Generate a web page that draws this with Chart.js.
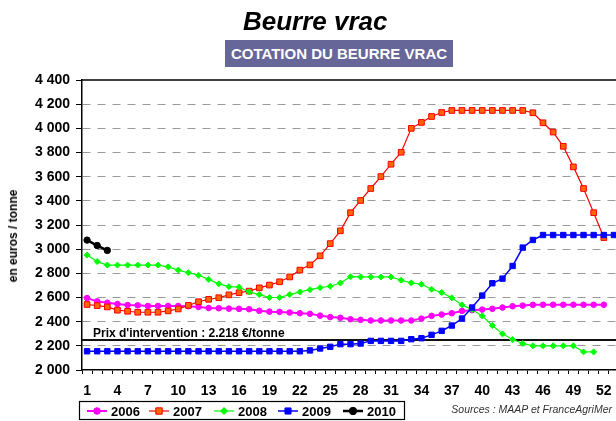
<!DOCTYPE html>
<html>
<head>
<meta charset="utf-8">
<script src="https://cdn.jsdelivr.net/npm/chart.js@4/dist/chart.umd.min.js"></script>
<style>
  html, body { margin: 0; padding: 0; background: #fff; overflow: hidden; }
  #wrap { position: relative; width: 616px; height: 421px; overflow: hidden;
          font-family: "Liberation Sans", Arial, sans-serif; color: #000; }
  #chart { position: absolute; left: 0; top: 0; }
  .title { position: absolute; left: 243px; top: 6px; font-size: 26px; line-height: 30px;
           font-weight: bold; font-style: italic; white-space: nowrap; }
  .subtitle { position: absolute; left: 225px; top: 40px; width: 228px; height: 27px; line-height: 27px;
              background: #666699; color: #fff; font-size: 15px; font-weight: bold; text-align: center;
              white-space: nowrap; }
  .ytitle { position: absolute; left: 13px; top: 236px; transform: translate(-50%, -50%) rotate(-90deg);
            font-size: 12px; font-weight: bold; white-space: nowrap; }
  .prix { position: absolute; left: 93px; top: 326px; font-size: 12px; line-height: 14px;
          font-weight: bold; white-space: nowrap; }
  .sources { position: absolute; right: 4px; top: 403px; font-size: 10.5px; line-height: 13px;
             font-style: italic; color: #333; white-space: nowrap; }
</style>
</head>
<body>
<div id="wrap">
  <canvas id="chart" width="624" height="421"></canvas>
  <div class="title">Beurre vrac</div>
  <div class="subtitle">COTATION DU BEURRE VRAC</div>
  <div class="ytitle">en euros / tonne</div>
  <div class="prix">Prix d'intervention : 2.218 €/tonne</div>
  <div class="sources">Sources : MAAP et FranceAgriMer</div>
</div>
<script>
const FONT = "'Liberation Sans', Arial, sans-serif";

const weeks = ["1", "2", "3", "4", "5", "6", "7", "8", "9", "10", "11", "12", "13", "14", "15", "16", "17", "18",
  "19", "20", "21", "22", "23", "24", "25", "26", "27", "28", "29", "30", "31", "32", "33", "34", "35", "36",
  "37", "38", "39", "40", "41", "42", "43", "44", "45", "46", "47", "48", "49", "50", "51", "52", "53"];

const years = ["2006", "2007", "2008", "2009", "2010"];

const prix2006 = [2595, 2568, 2557, 2546, 2538, 2535, 2530, 2530, 2530, 2530, 2528, 2522, 2513, 2511, 2508, 2506,
  2503, 2490, 2483, 2481, 2476, 2470, 2465, 2450, 2438, 2432, 2420, 2415, 2410, 2410, 2410, 2410, 2410, 2425,
  2448, 2459, 2470, 2489, 2495, 2500, 2506, 2517, 2528, 2533, 2539, 2540, 2540, 2540, 2540, 2540, 2540, 2540, null];

const prix2007 = [2542, 2533, 2522, 2495, 2486, 2478, 2478, 2478, 2489, 2505, 2535, 2565, 2585, 2598, 2622, 2640,
  2653, 2680, 2703, 2730, 2770, 2827, 2870, 2945, 3046, 3152, 3302, 3403, 3502, 3601, 3703, 3802, 4000, 4049,
  4098, 4131, 4148, 4148, 4148, 4148, 4148, 4148, 4148, 4148, 4129, 4046, 3969, 3851, 3681, 3502, 3302, 3096, null];

const prix2008 = [2951, 2897, 2868, 2868, 2868, 2868, 2868, 2868, 2854, 2827, 2805, 2784, 2750, 2713, 2690, 2686,
  2646, 2624, 2600, 2600, 2624, 2646, 2665, 2681, 2693, 2720, 2772, 2770, 2770, 2770, 2770, 2743, 2721, 2710,
  2668, 2641, 2597, 2539, 2500, 2448, 2368, 2299, 2252, 2219, 2200, 2200, 2200, 2200, 2200, 2150, 2150, null, null];

const prix2009 = [2155, 2155, 2155, 2155, 2155, 2155, 2155, 2155, 2155, 2155, 2155, 2155, 2155, 2155, 2155, 2155,
  2155, 2155, 2155, 2155, 2155, 2155, 2162, 2178, 2192, 2214, 2214, 2219, 2241, 2241, 2241, 2241, 2255, 2263,
  2291, 2324, 2368, 2426, 2517, 2616, 2718, 2756, 2861, 3013, 3076, 3117, 3117, 3117, 3117, 3117, 3117, 3117, 3117];

const prix2010 = [3075, 3030, 2990];

const prixIntervention = 2245;

const yMin = 2000;
const yMax = 4400;
const yStep = 200;

// legend sample start positions (x) on the canvas
const legendX = [87, 149, 214, 278, 343];

function fmtThousands(v) {
  return String(v).replace(/\B(?=(\d{3})+$)/, " ");
}

function drawMarker(ctx, style, x, y, r, fill, stroke) {
  ctx.beginPath();
  if (style === "circle") {
    ctx.arc(x, y, r, 0, Math.PI * 2);
  } else if (style === "rect") {
    const s = r * Math.SQRT1_2;
    ctx.rect(x - s, y - s, 2 * s, 2 * s);
  } else {
    ctx.moveTo(x, y - r);
    ctx.lineTo(x + r, y);
    ctx.lineTo(x, y + r);
    ctx.lineTo(x - r, y);
    ctx.closePath();
  }
  ctx.fillStyle = fill;
  ctx.fill();
  ctx.lineWidth = 1;
  ctx.strokeStyle = stroke;
  ctx.stroke();
}

const extras = {
  id: "extras",
  beforeDatasetsDraw(chart) {
    const { ctx, chartArea } = chart;
    const y = Math.round(chart.scales.y.getPixelForValue(prixIntervention));
    ctx.save();
    ctx.strokeStyle = "#111";
    ctx.lineWidth = 2;
    ctx.beginPath();
    ctx.moveTo(chartArea.left, y);
    ctx.lineTo(chartArea.right + 10, y);
    ctx.stroke();
    ctx.restore();
  },
  afterDraw(chart) {
    const { ctx, chartArea } = chart;
    ctx.save();
    // top frame line
    ctx.strokeStyle = "#000";
    ctx.lineWidth = 1.5;
    ctx.beginPath();
    ctx.moveTo(chartArea.left, chartArea.top);
    ctx.lineTo(chartArea.right + 10, chartArea.top);
    ctx.stroke();

    // legend box
    ctx.fillStyle = "#fff";
    ctx.fillRect(79.5, 401.5, 325, 18);
    ctx.strokeStyle = "#000";
    ctx.lineWidth = 1.2;
    ctx.strokeRect(79.5, 401.5, 325, 18);

    const ly = 411;
    ctx.font = "bold 13px " + FONT;
    ctx.textBaseline = "middle";
    chart.data.datasets.forEach((ds, i) => {
      const x0 = legendX[i];
      ctx.strokeStyle = ds.borderColor;
      ctx.lineWidth = ds.borderWidth;
      ctx.beginPath();
      ctx.moveTo(x0, ly);
      ctx.lineTo(x0 + 20, ly);
      ctx.stroke();
      drawMarker(ctx, ds.pointStyle, x0 + 10, ly, ds.pointRadius + 0.5, ds.pointBackgroundColor, ds.pointBorderColor);
      ctx.fillStyle = "#000";
      ctx.fillText(ds.label, x0 + 24, ly + 1);
    });
    ctx.restore();
  }
};

const styles = [
  { color: "#FF00FF", fill: "#FF00FF", width: 2, point: "circle", r: 2.8 },
  { color: "#FF0000", fill: "#FF6600", width: 1.2, point: "rect", r: 4 },
  { color: "#00FF00", fill: "#00FF00", width: 1.2, point: "rectRot", r: 3 },
  { color: "#0000FF", fill: "#0000FF", width: 1.5, point: "rect", r: 3.8 },
  { color: "#000000", fill: "#000000", width: 2.5, point: "circle", r: 3.2 }
];
const series = [prix2006, prix2007, prix2008, prix2009, prix2010];

const datasets = series.map((data, i) => ({
  label: years[i],
  data,
  borderColor: styles[i].color,
  borderWidth: styles[i].width,
  pointStyle: styles[i].point,
  pointRadius: styles[i].r,
  pointBackgroundColor: styles[i].fill,
  pointBorderColor: styles[i].color,
  pointBorderWidth: 1,
  tension: 0,
  spanGaps: false,
  order: series.length - i
}));

new Chart(document.getElementById("chart"), {
  type: "line",
  data: { labels: weeks, datasets },
  plugins: [extras],
  options: {
    responsive: false,
    animation: false,
    devicePixelRatio: 1,
    layout: { padding: { top: 80, right: 4, bottom: 0, left: 0 } },
    plugins: {
      legend: { display: false },
      tooltip: { enabled: false }
    },
    scales: {
      x: {
        type: "category",
        offset: true,
        grid: { offset: true, drawOnChartArea: false, tickLength: 4, color: "#000", lineWidth: 1 },
        border: { color: "#000", width: 1.5 },
        ticks: {
          autoSkip: false,
          maxRotation: 0,
          minRotation: 0,
          padding: 9,
          color: "#000",
          font: { family: FONT, size: 14, weight: "bold" },
          callback(value, index) {
            return index % 3 === 0 ? this.getLabelForValue(value) : "";
          }
        },
        afterFit(scale) { scale.height = 51; }
      },
      y: {
        min: yMin,
        max: yMax,
        grid: {
          color: (c) => (c.tick && (c.tick.value === yMin || c.tick.value === yMax) ? "rgba(0,0,0,0)" : "#9a9a9a"),
          tickColor: "#000",
          tickLength: 6,
          lineWidth: 1
        },
        border: { color: "#000", width: 1.5, dash: [8, 7] },
        ticks: {
          stepSize: yStep,
          padding: 6,
          color: "#000",
          font: { family: FONT, size: 14, weight: "bold" },
          callback: (v) => fmtThousands(v)
        },
        afterFit(scale) { scale.width = 82; }
      }
    }
  }
});
</script>
</body>
</html>
